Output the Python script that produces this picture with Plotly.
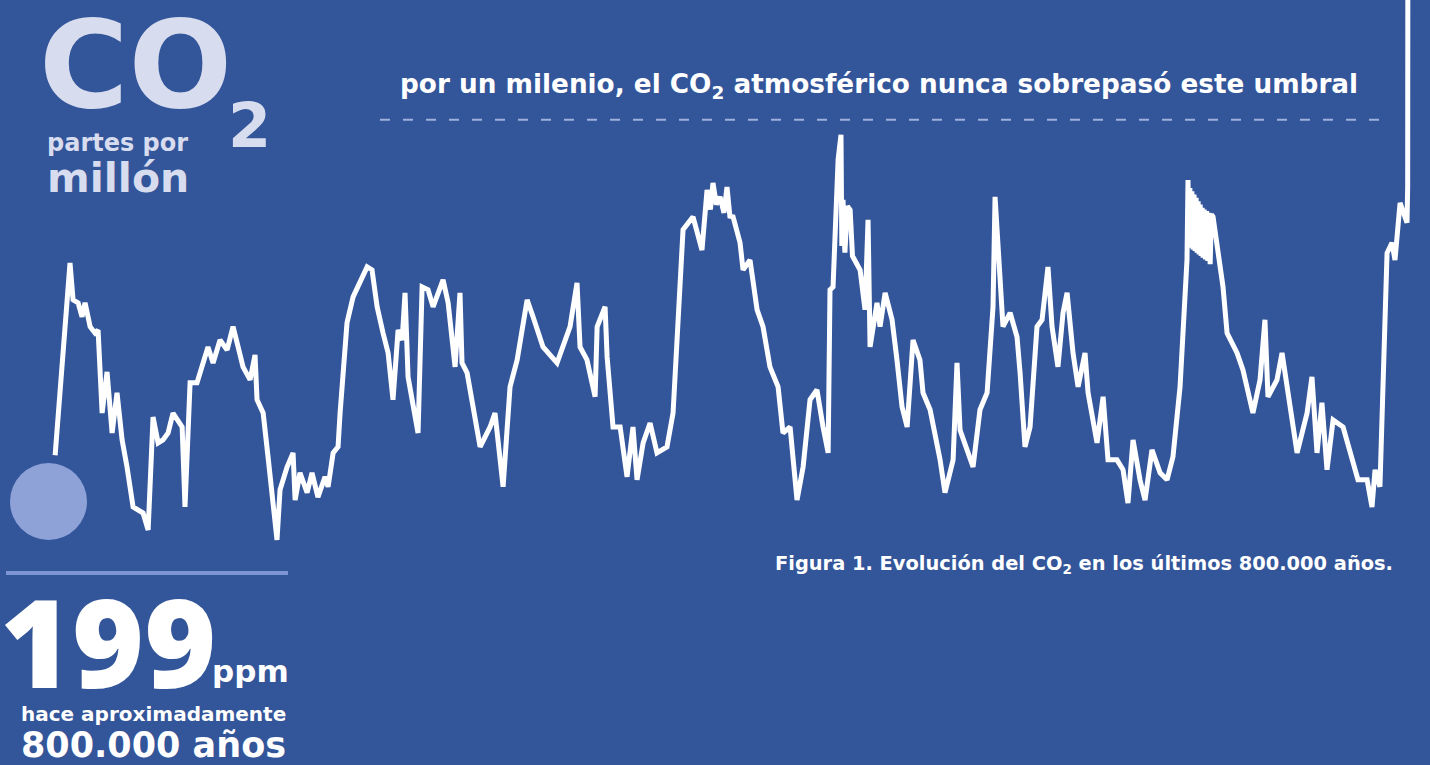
import plotly.graph_objects as go

# ---- data: CO2 (ppm) vs age (thousands of years before present) ----
age_kyr = [800.0, 791.2, 789.4, 786.4, 784.1, 782.3, 779.3, 776.4, 774.6, 772.2, 769.3, 766.3, 763.4,
           760.4, 757.5, 753.9, 748.0, 745.0, 742.1, 739.1, 736.2, 733.2, 730.3, 724.9, 723.2, 720.2,
           716.1, 714.3, 709.6, 706.6, 702.5, 698.3, 694.8, 691.8, 688.9, 684.7, 681.8, 680.6, 677.0,
           674.1, 671.1, 668.8, 667.0, 662.8, 659.3, 658.1, 655.2, 651.0, 648.1, 644.6, 640.4, 638.6,
           635.6, 632.7, 631.5, 627.4, 623.8, 619.7, 615.5, 612.6, 609.6, 606.1, 603.1, 600.2, 597.2,
           594.8, 593.1, 591.3, 585.4, 583.0, 579.5, 576.5, 572.4, 570.6, 567.6, 563.5, 560.6, 559.4,
           556.4, 551.7, 548.7, 542.8, 539.9, 535.1, 531.0, 526.8, 520.9, 517.4, 511.5, 503.2, 495.5,
           491.4, 489.6, 485.5, 480.7, 479.5, 474.8, 473.6, 470.1, 465.9, 461.8, 458.3, 455.9, 452.3,
           448.2, 444.1, 438.2, 434.6, 430.5, 428.7, 422.8, 417.5, 414.5, 412.5, 411.0, 409.0, 406.8,
           404.5, 402.7, 401.0, 399.1, 395.0, 393.2, 389.1, 384.9, 381.4, 377.3, 372.5, 369.6, 365.4,
           361.3, 357.7, 353.6, 349.5, 345.9, 342.9, 341.8, 340.0, 337.0, 335.3, 334.8, 334.1, 333.0,
           331.5, 329.9, 328.5, 324.0, 321.1, 319.3, 318.1, 314.0, 312.2, 309.2, 305.1, 302.2, 299.2,
           296.2, 292.7, 288.6, 286.8, 282.6, 276.7, 273.8, 269.0, 266.7, 264.9, 257.2, 253.1, 248.9,
           245.4, 244.2, 241.3, 239.5, 235.3, 231.2, 229.4, 226.5, 223.5, 219.4, 216.4, 212.9, 210.5,
           207.0, 204.0, 201.6, 198.1, 195.1, 191.0, 189.2, 183.9, 180.3, 177.4, 172.1, 168.5, 165.6,
           162.6, 158.5, 155.5, 151.4, 146.6, 142.5, 139.0, 134.8, 130.7, 130.1, 129.6, 129.0, 128.4,
           127.8, 127.1, 126.5, 125.9, 125.3, 124.7, 124.1, 123.5, 122.9, 122.3, 121.7, 121.2, 120.5,
           119.8, 119.1, 118.4, 117.7, 117.0, 116.3, 115.3, 109.4, 107.0, 101.1, 97.6,
           91.7, 87.5, 84.6, 82.8, 77.5, 74.5, 69.8, 65.6, 59.7, 56.8, 53.8, 50.9, 47.9, 44.3, 38.4,
           34.3, 29.6, 24.2, 21.3, 19.5, 16.6, 12.4, 9.5, 7.7, 4.7, 0.6, 0.2, 0.0]
co2_ppm = [199.0, 256.9, 245.8, 244.9, 240.7, 244.9, 237.7, 235.8, 236.7, 211.7, 224.1, 205.7, 217.8,
           203.6, 195.5, 183.4, 181.6, 176.5, 210.5, 202.7, 203.6, 205.7, 211.7, 207.5, 183.4, 220.8,
           220.8, 223.8, 231.6, 226.8, 233.7, 230.7, 237.7, 231.6, 225.6, 221.7, 229.2, 215.7, 211.7,
           198.5, 183.4, 173.5, 188.6, 195.5, 199.7, 185.5, 193.7, 187.7, 193.7, 186.4, 192.5, 189.5,
           199.7, 201.5, 211.7, 238.9, 246.7, 250.9, 255.7, 254.8, 243.7, 235.8, 229.8, 215.7, 236.7,
           233.7, 247.9, 222.6, 205.7, 249.7, 248.8, 243.7, 249.7, 251.8, 244.9, 225.6, 247.9, 226.8,
           223.8, 210.5, 201.5, 207.5, 211.7, 189.5, 219.6, 227.7, 245.8, 240.7, 231.6, 226.8, 237.7,
           250.9, 231.6, 227.7, 216.6, 237.7, 243.7, 228.6, 207.5, 207.5, 192.5, 207.5, 191.6, 202.7,
           208.7, 199.7, 201.5, 211.7, 247.9, 266.9, 270.8, 260.8, 278.9, 273.0, 281.0, 274.5, 276.8,
           272.0, 279.8, 271.0, 270.8, 263.0, 254.8, 257.8, 242.8, 237.7, 225.6, 219.6, 205.7, 207.5,
           185.5, 195.5, 215.7, 218.7, 207.5, 199.7, 248.8, 249.7, 288.0, 295.5, 262.0, 275.9, 260.0,
           274.0, 272.9, 259.0, 254.8, 242.8, 269.9, 231.6, 244.9, 237.7, 247.9, 239.8, 227.7, 213.6,
           207.5, 233.7, 227.7, 217.8, 212.7, 197.6, 187.7, 197.6, 226.8, 206.6, 195.5, 212.7, 217.8,
           243.7, 276.8, 249.7, 237.7, 241.9, 234.6, 223.8, 201.5, 207.5, 237.7, 239.8, 255.7, 237.7,
           225.6, 241.9, 247.9, 229.8, 219.6, 229.8, 217.8, 202.7, 216.6, 197.6, 197.6, 194.6, 184.6,
           203.6, 191.6, 185.5, 200.6, 193.7, 191.6, 198.5, 219.6, 257.8, 281.9, 262.0, 279.5, 261.5,
           278.5, 261.0, 277.5, 260.5, 276.5, 260.0, 275.5, 259.5, 274.5, 259.0, 273.5, 258.5, 273.0,
           258.0, 272.5, 257.5, 272.0, 256.5, 271.5, 270.8, 249.7, 235.8, 229.8, 224.7,
           211.7, 221.7, 239.8, 216.6, 221.7, 229.8, 213.6, 199.7, 211.7, 222.6, 199.7, 214.8, 194.6,
           209.6, 207.5, 199.7, 191.6, 191.6, 183.4, 194.6, 189.5, 259.9, 263.0, 257.8, 275.0, 269.0,
           280.0, 415.0]
threshold_ppm = 300

# ---- layout helpers (pixel -> paper) ----
W, H = 1430, 765
BG = "#33559a"
FONT = "DejaVu Sans"


def px(x):
    return x / W


def py(y):
    return 1 - y / H


fig = go.Figure()
fig.add_trace(go.Scatter(x=age_kyr, y=co2_ppm, mode="lines",
                         line=dict(color="white", width=5),
                         hoverinfo="skip", showlegend=False))

shapes = [
    # threshold dashed line
    dict(type="line", xref="paper", yref="y", x0=px(380), x1=px(1380),
         y0=threshold_ppm, y1=threshold_ppm,
         line=dict(color="#9fb0dc", width=2, dash="10px,13px")),
    # start circle
    dict(type="circle", xref="paper", yref="paper", x0=px(10), x1=px(87),
         y0=py(540), y1=py(463), fillcolor="#8ea2d8", line=dict(width=0), layer="below"),
    # separator under circle
    dict(type="line", xref="paper", yref="paper", x0=px(6), x1=px(288),
         y0=py(573), y1=py(573), line=dict(color="#7d95d3", width=4)),
]

light = "#d7dcee"
ann = [
    dict(text="CO", x=px(37), y=py(65), font=dict(size=122, color=light, family=FONT)),
    dict(text="2", x=px(226), y=py(126), font=dict(size=62, color=light, family=FONT)),
    dict(text="partes por", x=px(45), y=py(143), font=dict(size=24, color=light, family=FONT)),
    dict(text="millón", x=px(45), y=py(178), font=dict(size=41, color=light, family=FONT)),
    dict(text="199", x=px(-2), y=py(640), font=dict(size=123, color="white", family="Open Sans", weight=800)),
    dict(text="ppm", x=px(210), y=py(671), font=dict(size=31, color="white", family=FONT)),
    dict(text="hace aproximadamente", x=px(19), y=py(714), font=dict(size=20, color="white", family=FONT)),
    dict(text="800.000 años", x=px(19), y=py(745), font=dict(size=35, color="white", family=FONT)),
    dict(text="por un milenio, el CO<sub>2</sub> atmosférico nunca sobrepasó este umbral",
         x=px(398), y=py(86), font=dict(size=26.3, color="white", family=FONT)),
    dict(text="Figura 1. Evolución del CO<sub>2</sub> en los últimos 800.000 años.",
         x=px(773), y=py(564), font=dict(size=19.4, color="white", family=FONT)),
]
for a in ann:
    a.update(xref="paper", yref="paper", xanchor="left", yanchor="middle",
             showarrow=False)
    a["font"].setdefault("weight", "bold")

fig.update_layout(
    width=W, height=H, margin=dict(l=0, r=0, t=0, b=0),
    paper_bgcolor=BG, plot_bgcolor=BG,
    xaxis=dict(range=[832.6, -13.0], visible=False, fixedrange=True),
    yaxis=dict(range=[105.7, 336.1], visible=False, fixedrange=True),
    shapes=shapes, annotations=ann, showlegend=False,
)
fig.write_html("out.html", config={"displayModeBar": False},
               post_script="document.body.style.margin='0';"
                           "document.body.style.background='" + BG + "';")
